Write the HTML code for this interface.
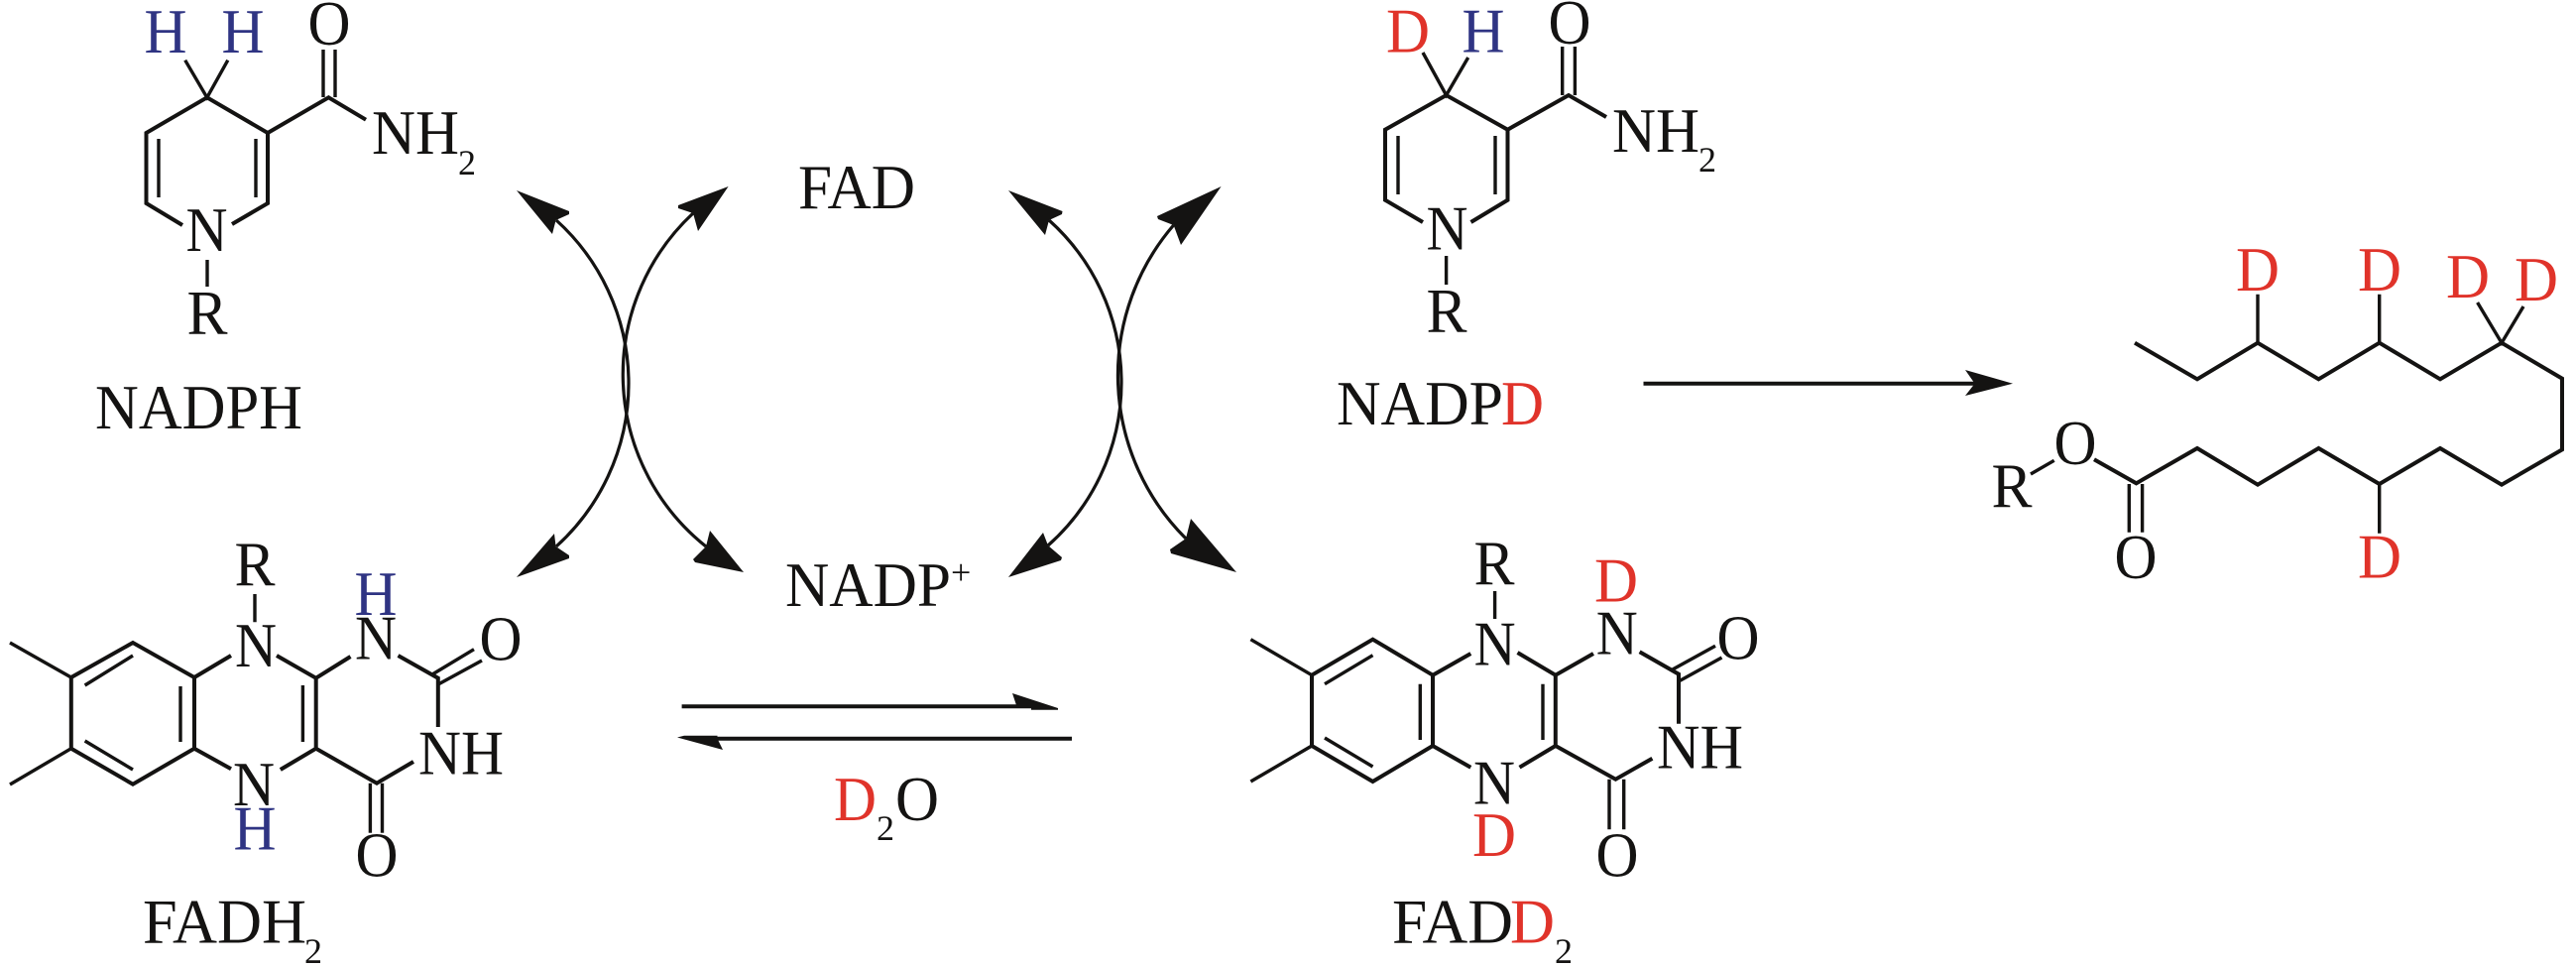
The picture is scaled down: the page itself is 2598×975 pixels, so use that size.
<!DOCTYPE html>
<html><head><meta charset="utf-8"><title>NADPH / FAD deuterium transfer</title>
<style>
html,body{margin:0;padding:0;background:#fff}
svg{display:block}
text{font-family:"Liberation Serif",serif;font-size:64px;fill:#141312}
.m{text-anchor:middle}
.s{font-size:36px}
.r{fill:#e0332a}
.b{fill:#2f3483}
.l{fill:none;stroke:#141312;stroke-width:4;stroke-linejoin:miter;stroke-linecap:butt}
.t{stroke-width:3.4}
.c{fill:none;stroke:#141312;stroke-width:3.2}
.h{fill:#141312;stroke:none}
</style></head><body>
<svg width="2598" height="975" viewBox="0 0 2598 975" xmlns="http://www.w3.org/2000/svg">
<rect width="2598" height="975" fill="#fff"/>

<!-- NADPH -->
<path class="l" d="M184,227 L147.5,205 L147.5,134 L208.8,98.3 L270,134 L270,205 L234,226"/>
<path class="l t" d="M160,140V199M258,140V199"/>
<path class="l t" d="M186.7,60.7L208.8,98.3L229.8,60.7M209,262V289"/>
<path class="l" d="M270,134L331.4,98.3L369,120.7"/>
<path class="l t" d="M326,50V98M338,50V98"/>
<text x="167" y="53" class="m b" textLength="43" lengthAdjust="spacingAndGlyphs">H</text><text x="245" y="53" class="m b" textLength="43" lengthAdjust="spacingAndGlyphs">H</text>
<text x="332" y="45" class="m" textLength="43" lengthAdjust="spacingAndGlyphs">O</text>
<text x="375" y="155" textLength="88" lengthAdjust="spacingAndGlyphs">NH</text><text x="462" y="176" class="s">2</text>
<text x="208.5" y="253" class="m" textLength="42" lengthAdjust="spacingAndGlyphs">N</text>
<text x="209" y="337" class="m" textLength="41" lengthAdjust="spacingAndGlyphs">R</text>
<text x="96" y="432" textLength="209" lengthAdjust="spacingAndGlyphs">NADPH</text>

<!-- FAD / NADP+ -->
<text x="805" y="210" textLength="118" lengthAdjust="spacingAndGlyphs">FAD</text>
<text x="792" y="611" textLength="167" lengthAdjust="spacingAndGlyphs">NADP</text><text x="959" y="589" class="s">+</text>

<!-- left cycle arrows: two crossing arcs -->
<path class="c" d="M561,222 A221.8,221.8 0 0 1 561,551"/>
<path class="c" d="M699,215 A221.8,221.8 0 0 0 712,551"/>
<path class="h" d="M521,192L574,213L574,216L560.6,222L557,236Z"/>
<path class="h" d="M734.6,188L684,207L684,210L699,215L704,233Z"/>
<path class="h" d="M521,582L559,538L560.6,551L574,560L574,563Z"/>
<path class="h" d="M750,577L716,535L712,551L699,564L701,567Z"/>

<!-- right cycle arrows: two crossing arcs -->
<path class="c" d="M1058,222 A219.7,219.7 0 0 1 1057,550"/>
<path class="c" d="M1183.6,227 A232,232 0 0 0 1196,543"/>
<path class="h" d="M1017,192L1071.5,213L1071,216L1058,222L1054,237Z"/>
<path class="h" d="M1231.6,188L1167,218L1168,221L1183.6,227L1191,247Z"/>
<path class="h" d="M1017,582L1052,537L1057,550L1071,562L1070,565Z"/>
<path class="h" d="M1247,577L1201,523L1196,543L1180,554L1181,558Z"/>

<!-- NADPD -->
<path class="l" d="M1435,224 L1397,201.7 L1397,130.7 L1458.6,96 L1520.5,130.7 L1520.5,201.7 L1483.5,224"/>
<path class="l t" d="M1410,137V196M1508,137V196"/>
<path class="l t" d="M1435,53L1458.6,96L1480.7,58M1458.6,258V287"/>
<path class="l" d="M1520.5,130.7L1582,96L1620,118"/>
<path class="l t" d="M1575.7,47V96M1588.4,47V96"/>
<text x="1420" y="52.7" class="m r" textLength="44" lengthAdjust="spacingAndGlyphs">D</text><text x="1496" y="52.7" class="m b" textLength="43" lengthAdjust="spacingAndGlyphs">H</text>
<text x="1583" y="44" class="m" textLength="43" lengthAdjust="spacingAndGlyphs">O</text>
<text x="1626" y="153" textLength="88" lengthAdjust="spacingAndGlyphs">NH</text><text x="1713" y="173" class="s">2</text>
<text x="1459.5" y="251.7" class="m" textLength="42" lengthAdjust="spacingAndGlyphs">N</text>
<text x="1459" y="335" class="m" textLength="41" lengthAdjust="spacingAndGlyphs">R</text>
<text x="1348" y="428" textLength="168" lengthAdjust="spacingAndGlyphs">NADP</text><text x="1514" y="428" class="r" textLength="43" lengthAdjust="spacingAndGlyphs">D</text>

<!-- forward arrow -->
<path class="l" d="M1657.5,386.7H1992"/>
<path class="h" d="M2030,386.7L1982,373L1991.6,386.7L1982,399Z"/>

<!-- fatty acid chain -->
<path class="l" d="M2153,345.7L2216,382.3L2277,345.7L2338.4,382.3L2399.7,345.7L2461,382.3L2523,345.7L2584,381.7V453.3L2523,488.7L2461,452L2399.7,488L2338.4,452L2277,488.7L2216,452L2154.5,487.3L2112,463.3"/>
<path class="l t" d="M2277,345.7V296.7M2399.7,345.7V296.7M2498.6,305L2523,345.7L2545,309M2399.7,488V537.7M2048,478L2071.7,464.3"/>
<path class="l t" d="M2147.3,488V536.7M2160.6,488V536.7"/>
<text x="2277" y="293" class="m r" textLength="44" lengthAdjust="spacingAndGlyphs">D</text><text x="2400" y="293" class="m r" textLength="44" lengthAdjust="spacingAndGlyphs">D</text>
<text x="2489" y="300" class="m r" textLength="44" lengthAdjust="spacingAndGlyphs">D</text><text x="2558" y="303" class="m r" textLength="44" lengthAdjust="spacingAndGlyphs">D</text>
<text x="2400" y="582.7" class="m r" textLength="44" lengthAdjust="spacingAndGlyphs">D</text>
<text x="2093" y="468" class="m" textLength="43" lengthAdjust="spacingAndGlyphs">O</text><text x="2029" y="511.7" class="m" textLength="41" lengthAdjust="spacingAndGlyphs">R</text><text x="2154" y="583" class="m" textLength="43" lengthAdjust="spacingAndGlyphs">O</text>

<!-- FADH2 -->
<path class="l" d="M71.8,683L134,648L196,683V754.7L134,790.7L71.8,754.7Z"/>
<path class="l t" d="M10,648L71.8,683M10,791L71.8,754.7"/>
<path class="l t" d="M85.6,691L134,661M182,692V748M85.6,747L134,776"/>
<path class="l" d="M196,683L233,661M279,661L318.7,683.7L353.5,662M401.5,661L441.8,683.7V733M417,768L380,789.7L318.7,754.7V683.7M318.7,754.7L282.8,776M196,754.7L233,775.3"/>
<path class="l t" d="M305.4,691V748M436,680L478,654.7M442,690L486,666M373.4,789.7V839.7M385.5,789.7V839.7M257,599V627.3"/>
<text x="258" y="672" class="m" textLength="42" lengthAdjust="spacingAndGlyphs">N</text>
<text x="379" y="664.7" class="m" textLength="42" lengthAdjust="spacingAndGlyphs">N</text>
<text x="256" y="812" class="m" textLength="42" lengthAdjust="spacingAndGlyphs">N</text>
<text x="422" y="780.7" textLength="86" lengthAdjust="spacingAndGlyphs">NH</text>
<text x="379" y="620" class="m b" textLength="43" lengthAdjust="spacingAndGlyphs">H</text><text x="257" y="856.3" class="m b" textLength="43" lengthAdjust="spacingAndGlyphs">H</text>
<text x="505" y="665.7" class="m" textLength="43" lengthAdjust="spacingAndGlyphs">O</text><text x="380" y="883.7" class="m" textLength="43" lengthAdjust="spacingAndGlyphs">O</text>
<text x="257" y="590.7" class="m" textLength="41" lengthAdjust="spacingAndGlyphs">R</text>
<text x="144" y="950.7" textLength="165" lengthAdjust="spacingAndGlyphs">FADH</text><text x="307" y="971" class="s">2</text>

<!-- equilibrium arrows -->
<path class="l" d="M687.6,712.3H1050"/>
<path class="h" d="M1067,714L1021,699L1025,711H1040V715.7H1067Z"/>
<path class="l" d="M715,744.7H1081"/>
<path class="h" d="M683,743.5L729,756L723.5,744.7V741.7H690Z"/>
<text x="841" y="827" class="r" textLength="43" lengthAdjust="spacingAndGlyphs">D</text><text x="884" y="847" class="s">2</text><text x="903" y="827" textLength="44" lengthAdjust="spacingAndGlyphs">O</text>

<!-- FADD2 -->
<path class="l" d="M1323,680.7L1384.5,644.7L1445,680.7V752L1384.5,788L1323,752Z"/>
<path class="l t" d="M1261.4,644.7L1323,680.7M1261.4,788L1323,752"/>
<path class="l t" d="M1336,689.7L1384.5,660.7M1432.3,689.7V746M1336,744L1384.5,773"/>
<path class="l" d="M1445,680.7L1483.3,659M1530.5,658L1568.8,680.7L1607,659M1653.6,657.3L1693,679.7V729.7M1666.4,764.7L1629.4,785.7L1568.8,752V680.7M1568.8,752L1532.5,773.7M1445,752L1483.3,773.7"/>
<path class="l t" d="M1556,689.7V746M1685.5,675.7L1730,651.3M1693,687L1736.5,663M1623,785.7V836.3M1637.7,785.7V836.3M1507.6,596V624"/>
<text x="1507.6" y="670.7" class="m" textLength="42" lengthAdjust="spacingAndGlyphs">N</text>
<text x="1630.7" y="659.7" class="m" textLength="42" lengthAdjust="spacingAndGlyphs">N</text>
<text x="1507" y="810.7" class="m" textLength="42" lengthAdjust="spacingAndGlyphs">N</text>
<text x="1671" y="774.7" textLength="87" lengthAdjust="spacingAndGlyphs">NH</text>
<text x="1630" y="606.3" class="m r" textLength="44" lengthAdjust="spacingAndGlyphs">D</text><text x="1507" y="863" class="m r" textLength="44" lengthAdjust="spacingAndGlyphs">D</text>
<text x="1753" y="664.7" class="m" textLength="43" lengthAdjust="spacingAndGlyphs">O</text><text x="1631" y="883.7" class="m" textLength="43" lengthAdjust="spacingAndGlyphs">O</text>
<text x="1507" y="589.7" class="m" textLength="41" lengthAdjust="spacingAndGlyphs">R</text>
<text x="1404" y="950.7" textLength="122" lengthAdjust="spacingAndGlyphs">FAD</text><text x="1523" y="950.7" class="r" textLength="45" lengthAdjust="spacingAndGlyphs">D</text><text x="1568" y="971" class="s">2</text>
</svg>
</body></html>
